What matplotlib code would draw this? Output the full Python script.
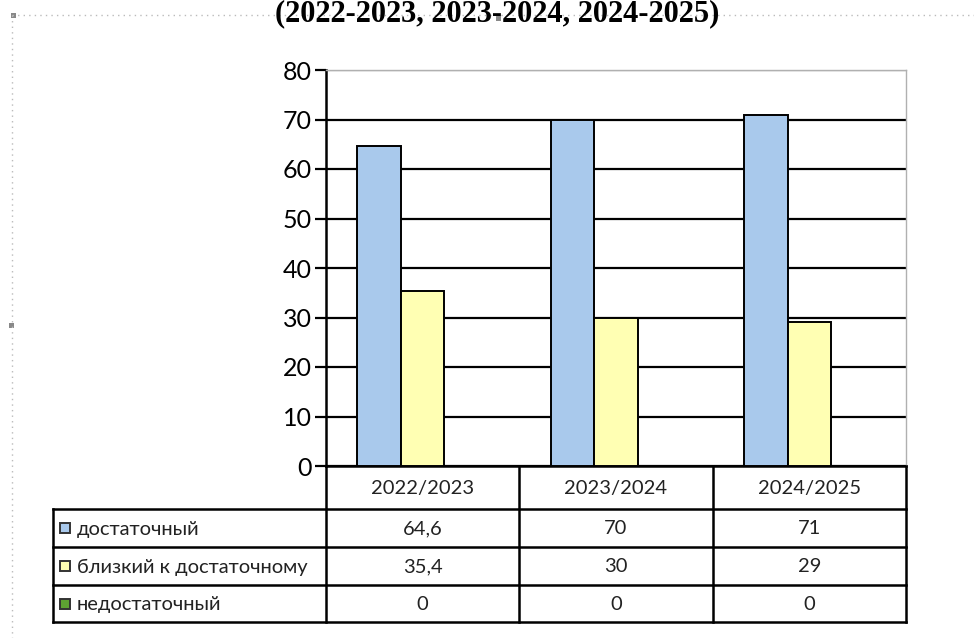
import matplotlib
matplotlib.use("Agg")
import matplotlib.pyplot as plt
from matplotlib.patches import Rectangle

years = ["2022/2023", "2023/2024", "2024/2025"]
series = ["достаточный", "близкий к достаточному", "недостаточный"]
dostat = [64.6, 70, 71]
blizk = [35.4, 30, 29]
nedostat = [0, 0, 0]
values = [dostat, blizk, nedostat]
colors = ["#a9c9ec", "#ffffb3", "#5ea132"]
yticks = [0, 10, 20, 30, 40, 50, 60, 70, 80]
title = "(2022-2023, 2023-2024, 2024-2025)"

W, H = 974, 638
plt.rcParams['font.family'] = ['Lato', 'DejaVu Sans']

fig = plt.figure(figsize=(W / 100, H / 100), dpi=100)

# plot area in pixels
left, right, top, bottom = 326, 906, 70, 466
ax = fig.add_axes([left / W, 1 - bottom / H, (right - left) / W, (bottom - top) / H])

w = 0.225
for k, vals in enumerate(values):
    xs = [i + (k - 1) * w for i in range(len(years))]
    ax.bar(xs, vals, width=w, color=colors[k], edgecolor="black", linewidth=1.4, zorder=3)

ax.set_xlim(-0.5, len(years) - 0.5)
ax.set_ylim(0, 80)
ax.set_yticks(yticks)
ax.set_xticks([])
ax.tick_params(axis='y', labelsize=18, length=8, width=1.6, pad=2, colors="black")
ax.grid(axis='y', color="black", linewidth=1.6)
ax.get_ygridlines()[-1].set_color("#b0b0b0")
ax.get_ygridlines()[-1].set_linewidth(1.0)
ax.set_axisbelow(True)
for s in ["top", "right"]:
    ax.spines[s].set_color("#b0b0b0")
    ax.spines[s].set_linewidth(1.0)
ax.spines["left"].set_linewidth(1.8)
ax.spines["bottom"].set_linewidth(1.8)

# overlay for table and frame, pixel coordinates
ov = fig.add_axes([0, 0, 1, 1], zorder=-1)
ov.set_xlim(0, W)
ov.set_ylim(H, 0)
ov.axis("off")

cols = [left + (right - left) * i / len(years) for i in range(len(years) + 1)]
rows = [466, 509, 547, 585, 622]
tleft = 53
lw = 1.8
fs = 14.5

for y in rows[1:]:
    ov.plot([tleft, right], [y, y], color="black", lw=lw)
for x in cols:
    ov.plot([x, x], [rows[0], rows[-1]], color="black", lw=lw)
ov.plot([tleft, tleft], [rows[1], rows[-1]], color="black", lw=lw)

for i, yr in enumerate(years):
    cx = (cols[i] + cols[i + 1]) / 2
    ov.text(cx, (rows[0] + rows[1]) / 2 + 1, yr, ha="center", va="center",
            fontsize=fs, color="#222222")
    for k, vals in enumerate(values):
        v = vals[i]
        s = str(v).replace(".", ",") if isinstance(v, float) else str(v)
        ov.text(cx, (rows[k + 1] + rows[k + 2]) / 2 + 1, s, ha="center", va="center",
                fontsize=fs, color="#222222")

for k, name in enumerate(series):
    cy = (rows[k + 1] + rows[k + 2]) / 2
    ov.add_patch(Rectangle((60, cy - 5), 10, 10, facecolor=colors[k],
                           edgecolor="#333333", lw=1.4))
    ov.text(77, cy + 1, name, ha="left", va="center", fontsize=fs, color="#222222")

# dotted chart frame
ov.plot([12, W], [15, 15], color="#bbbbbb", lw=1, ls=(0, (1, 3)))
ov.plot([12, 12], [15, H], color="#bbbbbb", lw=1, ls=(0, (1, 3)))
for hx, hy in [(13, 15), (498, 18), (11, 325)]:
    ov.add_patch(Rectangle((hx - 2.5, hy - 2.5), 5, 5, facecolor="#888888", edgecolor="none"))

fig.text(497 / W, 1 - 21 / H, title, ha="center", va="baseline",
         fontsize=22, fontweight="bold",
         family=["Liberation Serif", "DejaVu Serif"], zorder=5)

fig.savefig("out.png", dpi=100)
